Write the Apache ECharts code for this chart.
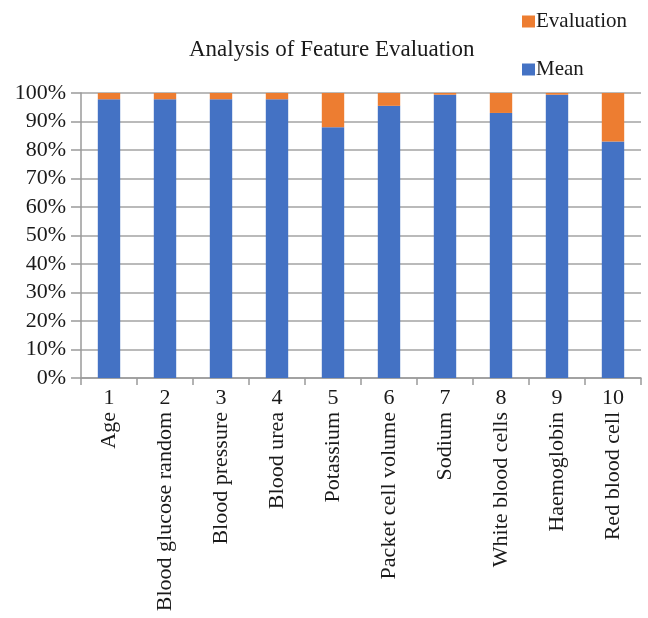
<!DOCTYPE html>
<html>
<head>
<meta charset="utf-8">
<script src="https://cdn.jsdelivr.net/npm/echarts@6/dist/echarts.min.js"></script>
<style>
  html, body { margin: 0; padding: 0; background: #fff; }
  #chart { width: 648px; height: 618px; }
</style>
</head>
<body>
<div id="chart"></div>
<script>
// Feature indices and names
const featureIds = ['1', '2', '3', '4', '5', '6', '7', '8', '9', '10'];
const featureNames = ['Age', 'Blood glucose random', 'Blood pressure', 'Blood urea', 'Potassium',
  'Packet cell volume', 'Sodium', 'White blood cells', 'Haemoglobin', 'Red blood cell'];

// Share of each feature (percent)
const meanValues = [97.8, 97.8, 97.8, 97.8, 88, 95.5, 99.4, 93, 99.4, 83];
const evaluationValues = [2.2, 2.2, 2.2, 2.2, 12, 4.5, 0.6, 7, 0.6, 17];

const yTicks = { min: 0, max: 100, interval: 10 };

// 100% stacked: normalise each column
const totals = meanValues.map((v, i) => v + evaluationValues[i]);
const meanPct = meanValues.map((v, i) => v / totals[i] * 100);
const evalPct = evaluationValues.map((v, i) => v / totals[i] * 100);

const FONT = '"Liberation Serif", "Times New Roman", serif';
const TXT = '#1a1a1a';

const chart = echarts.init(document.getElementById('chart'), null, { renderer: 'canvas' });
chart.setOption({
  animation: false,
  backgroundColor: '#fff',
  title: {
    text: 'Analysis of Feature Evaluation',
    left: 184, top: 33,
    textStyle: { fontFamily: FONT, fontSize: 23, fontWeight: 'normal', color: TXT }
  },
  legend: {
    orient: 'vertical',
    left: 517, top: 6,
    icon: 'rect',
    itemWidth: 13, itemHeight: 12, itemGap: 27,
    data: ['Evaluation', 'Mean'],
    textStyle: { fontFamily: FONT, fontSize: 21, color: TXT, padding: [0, 0, 0, -4] }
  },
  grid: { left: 81, right: 7, top: 93, bottom: 240, containLabel: false },
  xAxis: [
    {
      type: 'category',
      data: featureIds,
      position: 'bottom',
      axisLine: { lineStyle: { color: '#9a9a9a', width: 1.5 } },
      axisTick: { show: true, length: 7, lineStyle: { color: '#9a9a9a', width: 1.5 } },
      axisLabel: { margin: 9, fontFamily: FONT, fontSize: 22, color: TXT }
    },
    {
      type: 'category',
      data: featureNames,
      position: 'bottom',
      axisLine: { show: false },
      axisTick: { show: false },
      axisLabel: { margin: 34, rotate: 90, fontFamily: FONT, fontSize: 22, color: TXT }
    }
  ],
  yAxis: {
    type: 'value',
    min: yTicks.min, max: yTicks.max, interval: yTicks.interval,
    axisLine: { show: true, lineStyle: { color: '#9a9a9a', width: 1.5 } },
    axisTick: { show: true, length: 10, lineStyle: { color: '#9a9a9a', width: 1.5 } },
    axisLabel: { formatter: '{value}%', margin: 15, fontFamily: FONT, fontSize: 22, color: TXT },
    splitLine: { lineStyle: { color: '#a3a3a3', width: 1.5 } }
  },
  series: [
    {
      name: 'Mean', type: 'bar', stack: 'total', xAxisIndex: 0,
      barWidth: '40%',
      itemStyle: { color: '#4472C4' },
      data: meanPct
    },
    {
      name: 'Evaluation', type: 'bar', stack: 'total', xAxisIndex: 0,
      barWidth: '40%',
      itemStyle: { color: '#ED7D31' },
      data: evalPct
    }
  ]
});
</script>
</body>
</html>
